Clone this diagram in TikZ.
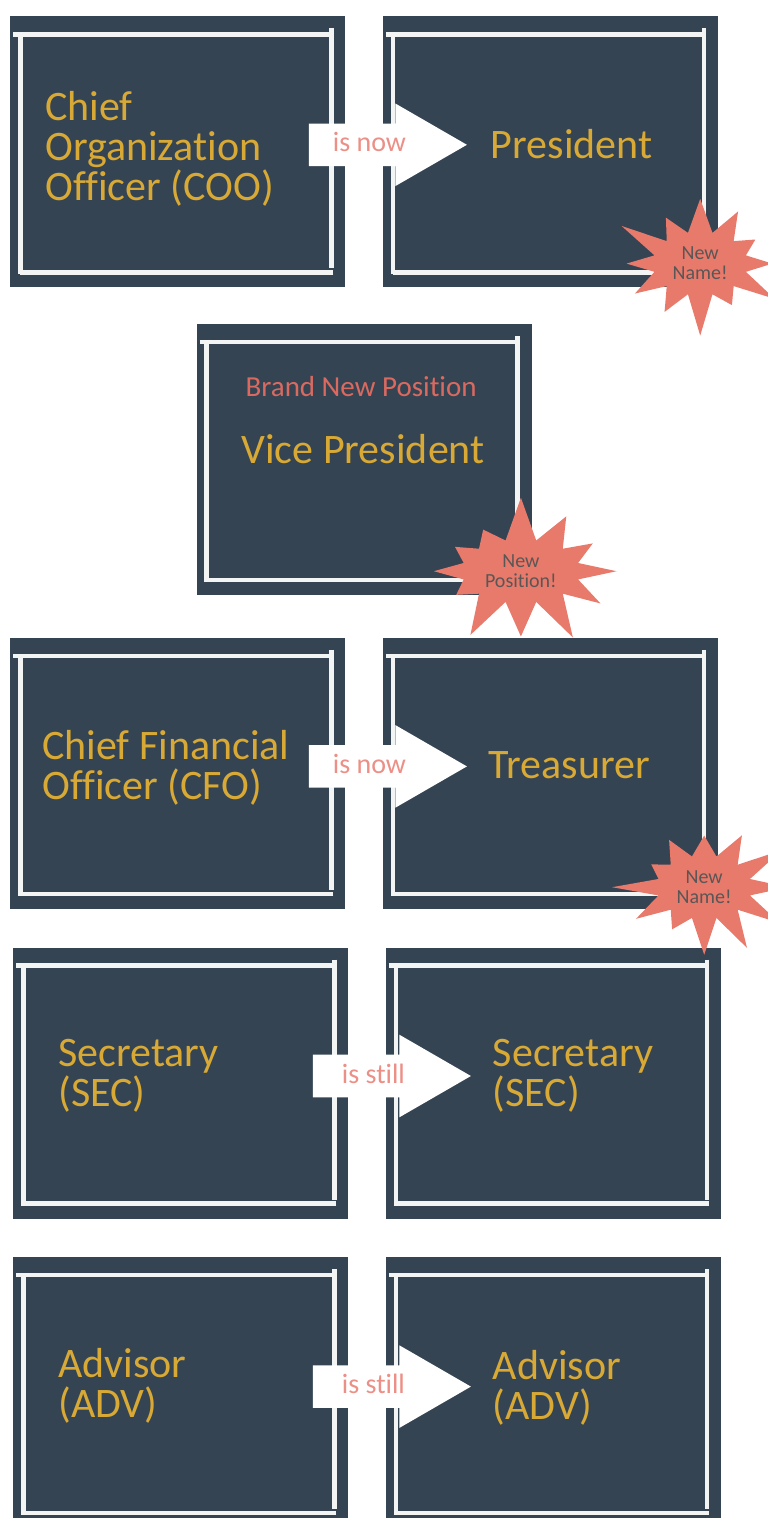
\documentclass[tikz,border=0pt]{standalone}
\usepackage{fontspec}
\setmainfont{Carlito}[Ligatures=NoCommon]
\usetikzlibrary{positioning,calc,shapes.arrows,shapes.symbols}
\definecolor{slate}{HTML}{354453}
\definecolor{chalk}{HTML}{F3F5F5}
\definecolor{gold}{HTML}{D8A935}
\definecolor{coral}{HTML}{E87A6B}
\definecolor{rose}{HTML}{EC8F86}
\definecolor{brick}{HTML}{DA6A60}
\definecolor{ink}{HTML}{5B5656}

\begin{document}
\begin{tikzpicture}[semithick,
  frame/.style={chalk,line width=4.5pt},
  box/.style={fill=slate,minimum width=335pt,minimum height=271pt,inner sep=0pt,
    path picture={
      \coordinate (fnw) at ([xshift=10pt,yshift=-18pt]path picture bounding box.north west);
      \coordinate (fse) at ([xshift=-14pt,yshift=15pt]path picture bounding box.south east);
      \draw[frame] ($(fnw)+(-7pt,0)$) -- (fnw -| fse);
      \draw[frame] ($(fnw -| fse)+(0,6pt)$) -- ($(fse)+(0,4pt)$);
      \draw[frame] ($(fse)+(2pt,0)$) -- (fse -| fnw);
      \draw[frame] ($(fnw)+(0,2pt)$) -- ($(fse -| fnw)+(0,-2pt)$);
    }},
  title/.style={text=gold,font=\fontsize{42}{40}\selectfont,align=left,inner sep=0pt,anchor=west},
  flow/.style={single arrow,fill=white,text=rose,font=\fontsize{28}{28}\selectfont,
    minimum height=158pt,single arrow head extend=20pt,single arrow tip angle=60,
    text height=20pt,text depth=6pt,inner ysep=8pt,inner xsep=0pt,anchor=tail},
  burst/.style={starburst,fill=coral,text=ink,font=\fontsize{20}{20}\selectfont,align=center,
    starburst points=12,starburst point height=46pt,inner sep=6pt}]
\useasboundingbox (0,0) rectangle (768pt,-1518pt);

% boxes
\node[box,anchor=north west] (coo) at (10pt,-16pt) {};
\node[box,right=37pt of coo] (pres) {};
\coordinate (topmid) at ($(coo.south)!0.5!(pres.south)$);
\node[box,below=36pt of topmid] (vp) {};
\node[box,below=350pt of coo] (cfo) {};
\node[box,right=37pt of cfo] (tre) {};
\node[box,below=38pt of cfo,xshift=3pt] (sec) {};
\node[box,right=37pt of sec] (secnew) {};
\node[box,below=38pt of sec] (adv) {};
\node[box,right=37pt of adv] (advnew) {};

% arrows
\node[flow,xshift=-37pt,yshift=7pt] (cooflow) at (coo.east) {is now};
\node[flow,xshift=-37pt,yshift=7pt] (cfoflow) at (cfo.east) {is now};
\node[flow,xshift=-36pt,yshift=7pt] (secflow) at (sec.east) {is still};
\node[flow,xshift=-36pt,yshift=6pt] (advflow) at (adv.east) {is still};

% names
\node[title,xshift=35pt,yshift=3pt] (cootext) at (coo.west) {Chief\\Organization\\Officer (COO)};
\node[title,xshift=108pt,yshift=8pt] (prestext) at (pres.west) {President};
\node[text=brick,font=\fontsize{29}{29}\selectfont] (vpnote) at ($(vp.center)+(-3pt,73pt)$) {Brand New Position};
\node[title,anchor=center] (vptext) at ($(vp.center)+(-1pt,10pt)$) {Vice President};
\node[title,xshift=32pt,yshift=6pt] (cfotext) at (cfo.west) {Chief Financial\\Officer (CFO)};
\node[title,xshift=106pt,yshift=8pt] (tretext) at (tre.west) {Treasurer};
\node[title,xshift=45pt,yshift=7pt] (sectext) at (sec.west) {Secretary\\(SEC)};
\node[title,xshift=107pt,yshift=7pt] (secnewtext) at (secnew.west) {Secretary\\(SEC)};
\node[title,xshift=45pt,yshift=7pt] (advtext) at (adv.west) {Advisor\\(ADV)};
\node[title,xshift=107pt,yshift=5pt] (advnewtext) at (advnew.west) {Advisor\\(ADV)};

% stickers
\node[burst,random starburst=100] (presburst) at ($(pres.south east)+(-18pt,24pt)$) {New\\Name!};
\node[burst,random starburst=7] (vpburst) at ($(vp.south east)+(-11pt,24pt)$) {New\\Position!};
\node[burst,random starburst=42] (treburst) at ($(tre.south east)+(-14pt,22pt)$) {New\\Name!};
\end{tikzpicture}
\end{document}
